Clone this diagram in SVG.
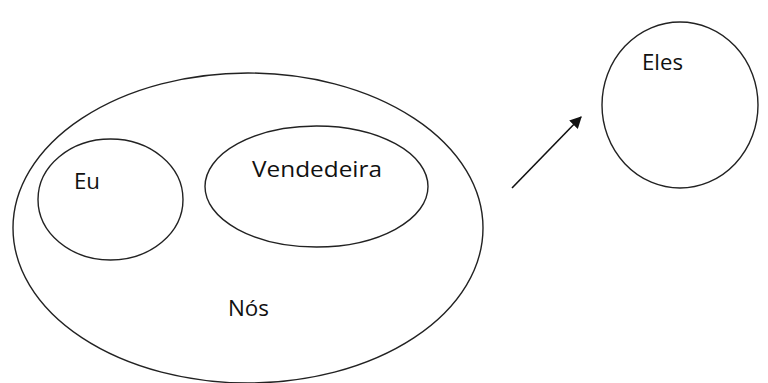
<svg xmlns="http://www.w3.org/2000/svg" width="768" height="383" viewBox="0 0 768 383">
<style>
.shape{fill:none;stroke:#222;stroke-width:1.4}
.lbl{font-family:"Open Sans","Noto Sans",sans-serif;font-size:21px;fill:#111}
.conn{stroke:#111;stroke-width:1.6;fill:none}
</style>
<defs>
<marker id="arr" viewBox="0 0 10 10" refX="9" refY="5" markerWidth="7.5" markerHeight="7.5" orient="auto" markerUnits="strokeWidth">
<path d="M0,0 L10,5 L0,10 z" fill="#111"/>
</marker>
</defs>
<rect width="768" height="383" fill="#fff"/>
<g id="nos">
<ellipse class="shape" cx="248" cy="228" rx="235" ry="155"/>
<text class="lbl" x="228" y="316" textLength="41" lengthAdjust="spacingAndGlyphs">Nós</text>
</g>
<g id="eu">
<ellipse class="shape" cx="110.5" cy="199.5" rx="72.5" ry="60.5"/>
<text class="lbl" x="74" y="189" textLength="26" lengthAdjust="spacingAndGlyphs">Eu</text>
</g>
<g id="vendedeira">
<ellipse class="shape" cx="316.5" cy="186.5" rx="111.5" ry="60.5"/>
<text class="lbl" x="252" y="177" textLength="130" lengthAdjust="spacingAndGlyphs">Vendedeira</text>
</g>
<g id="eles">
<ellipse class="shape" cx="680" cy="105" rx="78" ry="83"/>
<text class="lbl" x="642" y="70" textLength="41" lengthAdjust="spacingAndGlyphs">Eles</text>
</g>
<g id="connectors">
<line class="conn" x1="512" y1="188" x2="581" y2="117" marker-end="url(#arr)"/>
</g>
</svg>
